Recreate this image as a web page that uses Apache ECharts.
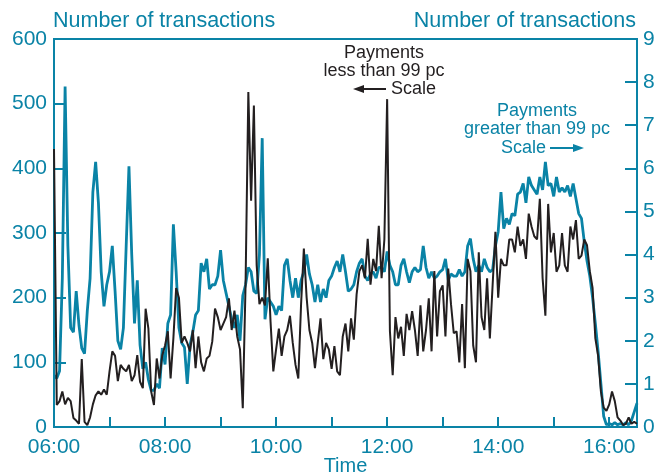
<!DOCTYPE html>
<html>
<head>
<meta charset="utf-8">
<script src="https://cdn.jsdelivr.net/npm/echarts@6/dist/echarts.min.js"></script>
<style>
  html, body { margin: 0; padding: 0; background: #fff; }
  #chart { width: 655px; height: 473px; }
</style>
</head>
<body>
<div id="chart"></div>
<script>
// transactions per 3 minutes, 06:00 - 16:30
const times = []
for (let m = 360; m <= 990; m += 3) {
  const h = Math.floor(m / 60), mm = m % 60
  times.push((h < 10 ? '0' : '') + h + ':' + (mm < 10 ? '0' : '') + mm)
}

// payments less than 99 pc (left scale)
const smallPay = [
  430, 34, 40, 55, 35, 45, 40, 14, 10, 5,
  105, 8, 3, 15, 35, 49, 55, 50, 58, 50,
  86, 117, 110, 71, 96, 90, 86, 96, 71, 80,
  111, 70, 60, 183, 152, 55, 34, 106, 75, 111,
  126, 148, 75, 137, 215, 200, 130, 140, 130, 117,
  150, 91, 140, 100, 86, 106, 110, 132, 183, 170,
  150, 160, 170, 199, 150, 180, 140, 120, 29, 220,
  518, 350, 497, 250, 190, 200, 188, 261, 163, 86,
  120, 152, 110, 140, 150, 172, 130, 96, 75, 190,
  276, 200, 150, 130, 91, 130, 168, 105, 130, 120,
  90, 125, 86, 80, 140, 160, 117, 168, 135, 205,
  241, 250, 230, 291, 220, 260, 241, 311, 230, 290,
  507, 148, 80, 170, 137, 155, 110, 175, 150, 179,
  150, 110, 188, 117, 150, 199, 117, 241, 140, 210,
  219, 140, 245, 190, 145, 148, 100, 190, 91, 260,
  241, 126, 100, 270, 170, 150, 230, 137, 220, 302,
  200, 260, 250, 250, 290, 290, 270, 310, 280, 290,
  260, 330, 310, 295, 290, 353, 230, 172, 345, 270,
  300, 240, 250, 300, 250, 240, 310, 290, 320, 260,
  265, 290, 281, 241, 215, 137, 110, 55, 30, 25,
  35, 55, 40, 15, 10, 3, 5, 15, 5, 8, 5
]

// payments greater than 99 pc (right scale)
const largePay = [
  1.2, 1.13, 1.3, 3.45, 7.9, 4.2, 2.3, 2.2, 3.15, 2.36,
  1.83, 1.7, 2.7, 3.45, 5.45, 6.15, 5.2, 3.6, 2.8, 3.3,
  3.6, 4.2, 3.15, 2.0, 1.8, 2.3, 4.2, 6.05, 4.0, 2.4,
  3.4, 1.9, 1.35, 1.5, 1.1, 0.85, 0.85, 1.0, 0.9, 1.83,
  1.45, 2.4, 2.6, 4.7, 3.6, 2.3, 1.95, 1.85, 1.0, 1.9,
  2.2, 2.6, 2.7, 3.8, 3.6, 3.9, 3.2, 3.3, 3.3, 3.5,
  4.1, 3.4, 3.1, 2.8, 2.5, 2.3, 2.6, 2.0, 3.05, 3.3,
  3.7, 3.6, 3.15, 3.1, 4.0, 6.7, 2.5, 3.0, 2.9, 2.8,
  2.6, 2.8, 2.7, 3.75, 3.9, 3.4, 3.0, 3.45, 3.0, 3.4,
  3.6, 4.0, 3.55, 3.3, 2.9, 3.3, 2.9, 3.2, 3.0, 3.4,
  3.5, 3.7, 3.85, 3.6, 4.0, 3.6, 3.15, 3.2, 3.3, 3.6,
  3.8, 3.9, 3.5, 3.4, 3.55, 3.6, 3.45, 3.7, 3.7, 3.6,
  4.07, 3.75, 3.6, 3.3, 3.3, 3.75, 3.9, 3.6, 3.35, 3.6,
  3.7, 3.6, 3.65, 4.2, 3.7, 3.45, 3.6, 3.45, 3.5, 3.6,
  3.65, 3.9, 3.4, 3.55, 3.5, 3.5, 3.65, 3.5, 3.6, 4.2,
  4.37, 3.9, 3.6, 3.75, 3.6, 3.9, 3.7, 3.6, 3.65, 4.2,
  4.53, 5.45, 4.6, 4.84, 4.7, 4.95, 4.9, 5.4, 5.45, 5.65,
  5.2, 5.8, 5.6, 5.5, 5.4, 5.8, 5.5, 6.15, 5.6, 5.65,
  5.35, 5.8, 5.45, 5.55, 5.45, 5.6, 5.35, 5.65, 5.3, 4.95,
  4.84, 4.3, 3.85, 3.5, 3.0, 2.4, 1.75, 1.0, 0.25, 0.05,
  0.08, 0.05, 0.1, 0.05, 0.08, 0.05, 0.1, 0.05, 0.15, 0.35, 0.55
]

const TEAL = '#0a83a6'
const INK = '#231f20'
const FONT = '"Liberation Sans", Arial, sans-serif'

const chart = echarts.init(document.getElementById('chart'))
chart.setOption({
  animation: false,
  grid: {
    left: 54, right: 18, top: 39, bottom: 46,
    outerBoundsMode: 'none',
    containLabel: false,
    show: true, borderColor: TEAL, borderWidth: 2
  },
  xAxis: {
    type: 'category',
    data: times,
    boundaryGap: false,
    name: 'Time',
    nameLocation: 'middle',
    nameGap: 29,
    nameMoveOverlap: false,
    nameTextStyle: { color: TEAL, fontSize: 20, fontFamily: FONT },
    axisLine: { lineStyle: { color: TEAL, width: 2 } },
    axisTick: { inside: true, length: 10, interval: i => i % 20 === 0, lineStyle: { color: TEAL, width: 2 } },
    axisLabel: { interval: i => i % 40 === 0, color: TEAL, fontSize: 21, fontFamily: FONT, margin: 10 },
    splitLine: { show: false }
  },
  yAxis: [
    {
      type: 'value', min: 0, max: 600, interval: 100, position: 'left',
      axisLine: { show: true, lineStyle: { color: TEAL, width: 2 } },
      axisTick: { show: true, inside: true, length: 12, lineStyle: { color: TEAL, width: 2 } },
      axisLabel: { color: TEAL, fontSize: 21, fontFamily: FONT, margin: 7 },
      splitLine: { show: false }
    },
    {
      type: 'value', min: 0, max: 9, interval: 1, position: 'right',
      axisLine: { show: true, lineStyle: { color: TEAL, width: 2 } },
      axisTick: { show: true, inside: true, length: 12, lineStyle: { color: TEAL, width: 2 } },
      axisLabel: { color: TEAL, fontSize: 21, fontFamily: FONT, margin: 6 },
      splitLine: { show: false }
    }
  ],
  series: [
    {
      name: 'Payments greater than 99 pc',
      type: 'line', yAxisIndex: 1, data: largePay,
      showSymbol: false,
      lineStyle: { color: TEAL, width: 2.8 }
    },
    {
      name: 'Payments less than 99 pc',
      type: 'line', yAxisIndex: 0, data: smallPay,
      showSymbol: false,
      lineStyle: { color: INK, width: 2 }
    }
  ],
  graphic: [
    { type: 'text', x: 53, y: 21, style: { text: 'Number of transactions', fill: TEAL, font: '21.5px ' + FONT, align: 'left', verticalAlign: 'middle' } },
    { type: 'text', x: 636, y: 21, style: { text: 'Number of transactions', fill: TEAL, font: '21.5px ' + FONT, align: 'right', verticalAlign: 'middle' } },

    { type: 'text', x: 384, y: 53, style: { text: 'Payments', fill: INK, font: '18px ' + FONT, align: 'center', verticalAlign: 'middle' } },
    { type: 'text', x: 384, y: 71, style: { text: 'less than 99 pc', fill: INK, font: '18px ' + FONT, align: 'center', verticalAlign: 'middle' } },
    { type: 'text', x: 391, y: 89, style: { text: 'Scale', fill: INK, font: '18px ' + FONT, align: 'left', verticalAlign: 'middle' } },
    { type: 'line', shape: { x1: 361, y1: 89, x2: 386, y2: 89 }, style: { stroke: INK, lineWidth: 2 } },
    { type: 'polygon', shape: { points: [[353, 89], [364, 85], [364, 93]] }, style: { fill: INK } },

    { type: 'text', x: 537, y: 111, style: { text: 'Payments', fill: TEAL, font: '18px ' + FONT, align: 'center', verticalAlign: 'middle' } },
    { type: 'text', x: 537, y: 129, style: { text: 'greater than 99 pc', fill: TEAL, font: '18px ' + FONT, align: 'center', verticalAlign: 'middle' } },
    { type: 'text', x: 501, y: 148, style: { text: 'Scale', fill: TEAL, font: '18px ' + FONT, align: 'left', verticalAlign: 'middle' } },
    { type: 'line', shape: { x1: 550, y1: 148, x2: 575, y2: 148 }, style: { stroke: TEAL, lineWidth: 2 } },
    { type: 'polygon', shape: { points: [[584, 148], [573, 144], [573, 152]] }, style: { fill: TEAL } }
  ]
})
</script>
</body>
</html>
